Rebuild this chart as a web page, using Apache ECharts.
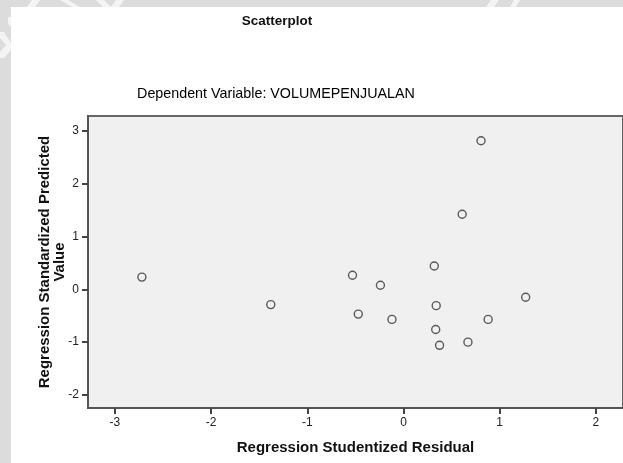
<!DOCTYPE html>
<html>
<head>
<meta charset="utf-8">
<script src="https://cdn.jsdelivr.net/npm/echarts@6/dist/echarts.min.js"></script>
<style>
html, body { margin: 0; padding: 0; background: #dcdcdc; }
#main { width: 623px; height: 463px; }
</style>
</head>
<body>
<div id="main"></div>
<script>
// residuals (x) and predicted values (y)
var residual = [-2.72, -1.38, -0.53, -0.47, -0.24, -0.12, 0.32, 0.34, 0.335, 0.375, 0.61, 0.67, 0.806, 0.88, 1.27];
var predicted = [0.23, -0.29, 0.265, -0.47, 0.076, -0.57, 0.44, -0.31, -0.76, -1.06, 1.42, -1.0, 2.81, -0.57, -0.15];
var xTicks = [-3, -2, -1, 0, 1, 2];
var yTicks = [-2, -1, 0, 1, 2, 3];

var points = [];
for (var i = 0; i < residual.length; i++) {
	points.push([residual[i], predicted[i]]);
}

var fontFam = '"Liberation Sans", Arial, sans-serif';

// faint watermark bits on the grey page edge
function mark(pts) {
	return { type: 'polygon', z: -9, shape: { points: pts }, style: { fill: '#f4f4f4' } };
}

var option = {
	backgroundColor: '#dcdcdc',
	animation: false,
	graphic: [{
		type: 'rect',
		z: -10,
		shape: { x: 11, y: 7, width: 620, height: 460 },
		style: { fill: '#ffffff' }
	},
		mark([[27, 7], [32, 0], [40, 0], [35, 7]]),
		mark([[60, 0], [68, 0], [80, 7], [72, 7]]),
		mark([[96, 0], [104, 0], [111, 7], [103, 7]]),
		mark([[111, 7], [116, 0], [124, 0], [119, 7]]),
		mark([[486, 7], [491, 0], [499, 0], [494, 7]]),
		mark([[510, 7], [514, 0], [520, 0], [516, 7]]),
		mark([[0, 32], [4, 32], [11, 43], [11, 50], [4, 58], [0, 58], [0, 52], [6, 45], [0, 38]]),
		mark([[8, 17], [11, 17], [11, 27], [8, 24]])
	],
	title: [{
		text: 'Scatterplot',
		left: 272,
		top: 9,
		textAlign: 'center',
		textStyle: { fontFamily: fontFam, fontSize: 13.5, fontWeight: 'bold', color: '#111' }
	}, {
		text: 'Dependent Variable: VOLUMEPENJUALAN',
		left: 271,
		top: 82,
		textAlign: 'center',
		textStyle: { fontFamily: fontFam, fontSize: 14.3, fontWeight: 'normal', color: '#000' }
	}],
	grid: {
		left: 88,
		top: 116,
		right: -2,
		bottom: 55,
		show: true,
		backgroundColor: '#f0f0f0',
		borderColor: '#666',
		borderWidth: 2
	},
	xAxis: {
		type: 'value',
		min: -3.28,
		max: 2.282,
		name: 'Regression Studentized Residual',
		nameLocation: 'middle',
		nameGap: 32,
		nameMoveOverlap: false,
		nameTextStyle: { fontFamily: fontFam, fontSize: 15, fontWeight: 'bold', color: '#111' },
		axisLine: { show: true, onZero: false, lineStyle: { color: '#555', width: 2 } },
		axisTick: { show: true, length: 6, customValues: xTicks, lineStyle: { color: '#444', width: 2 } },
		axisLabel: { customValues: xTicks, margin: 9, fontFamily: fontFam, fontSize: 12, color: '#222' },
		splitLine: { show: false }
	},
	yAxis: {
		type: 'value',
		min: -2.246,
		max: 3.278,
		name: 'Regression Standardized Predicted\nValue',
		nameLocation: 'middle',
		nameRotate: 90,
		nameGap: 21,
		nameMoveOverlap: false,
		nameTextStyle: { fontFamily: fontFam, fontSize: 15, fontWeight: 'bold', color: '#111', lineHeight: 15 },
		axisLine: { show: true, onZero: false, lineStyle: { color: '#555', width: 2 } },
		axisTick: { show: true, length: 6, customValues: yTicks, lineStyle: { color: '#444', width: 2 } },
		axisLabel: { customValues: yTicks, margin: 9, fontFamily: fontFam, fontSize: 12, color: '#222' },
		splitLine: { show: false }
	},
	series: [{
		type: 'scatter',
		symbol: 'circle',
		symbolSize: 8,
		itemStyle: { color: 'transparent', borderColor: '#333', borderWidth: 1.4 },
		data: points
	}]
};

echarts.init(document.getElementById('main')).setOption(option);
</script>
</body>
</html>
